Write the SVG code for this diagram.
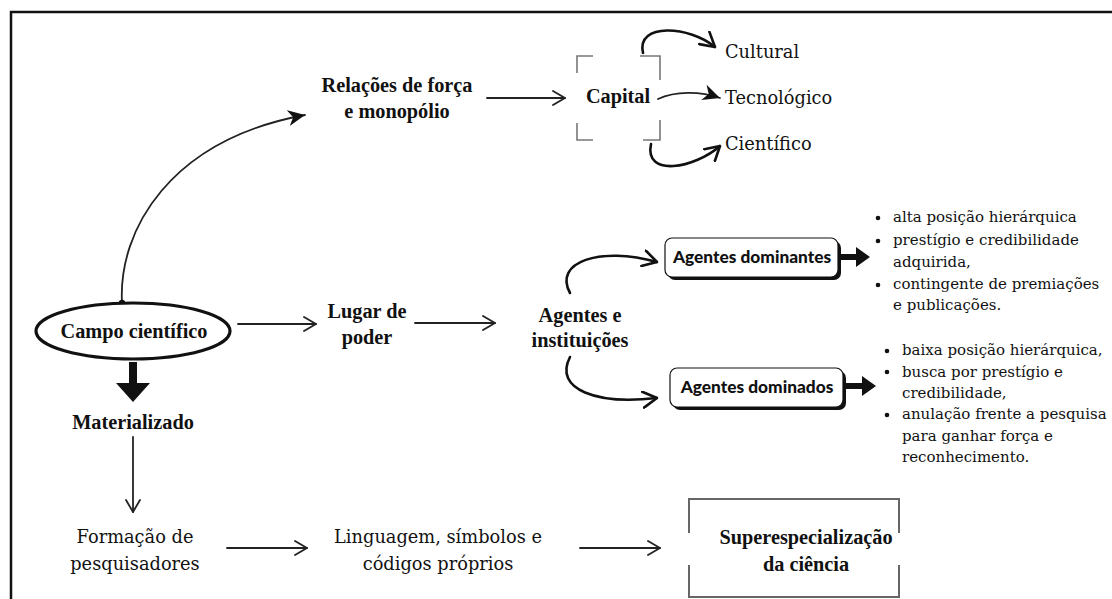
<svg xmlns="http://www.w3.org/2000/svg" width="1112" height="599" viewBox="0 0 1112 599">
<defs>
<style>
.h{font-family:"Liberation Serif","DejaVu Serif",serif;font-weight:bold;font-size:20.3px;fill:#111;text-anchor:middle}
.b{font-family:"DejaVu Serif","Liberation Serif",serif;font-size:17.8px;fill:#111}
.bl{font-family:"DejaVu Serif","Liberation Serif",serif;font-size:15px;fill:#111}
.s{font-family:Lato,"Open Sans",sans-serif;font-weight:900;font-size:17.3px;fill:#111;text-anchor:middle}
.ln{fill:none;stroke:#222;stroke-width:1.8;stroke-linecap:round}
.lk{fill:none;stroke:#111;stroke-width:2.6;stroke-linecap:round}
.br{fill:none;stroke:#777;stroke-width:1.6}
</style>
<marker id="op" markerUnits="userSpaceOnUse" viewBox="0 0 14 16" refX="13" refY="8" markerWidth="14" markerHeight="16" orient="auto">
<path d="M1,1 L13,8 L1,15" fill="none" stroke="#222" stroke-width="1.8" stroke-linecap="round" stroke-linejoin="round"/>
</marker>
<marker id="ok" markerUnits="userSpaceOnUse" viewBox="0 0 16 18" refX="15" refY="9" markerWidth="16" markerHeight="18" orient="auto">
<path d="M1,1 L15,9 L1,17" fill="none" stroke="#111" stroke-width="2.6" stroke-linecap="round" stroke-linejoin="round"/>
</marker>
<marker id="fl" markerUnits="userSpaceOnUse" viewBox="0 0 18 18" refX="17" refY="9" markerWidth="18" markerHeight="18" orient="auto">
<path d="M0,1 L17,9 L0,17 L5,9 z" fill="#111"/>
</marker>
</defs>
<rect width="1112" height="599" fill="#fff"/>
<path d="M11,599 L11,12 L1112,12" fill="none" stroke="#111" stroke-width="2.5"/>

<g id="connectors">
<path class="ln" d="M122,303 C118,230 170,140 305,115" marker-end="url(#fl)"/>
<circle cx="122" cy="303" r="3.2" fill="#111"/>
<path class="ln" d="M487,98 L565,98" marker-end="url(#op)"/>
<path class="lk" d="M643,53 C636,22 690,26 715,47" marker-end="url(#ok)"/>
<path class="ln" d="M658,99 C675,91 700,91 720,98" marker-end="url(#fl)"/>
<path class="lk" d="M651,144 C644,178 695,168 720,146" marker-end="url(#ok)"/>
<path class="ln" d="M238,324 L316,324" marker-end="url(#op)"/>
<path class="ln" d="M415,323 L495,323" marker-end="url(#op)"/>
<path class="lk" d="M570,293 C553,262 600,246 657,262" marker-end="url(#ok)"/>
<path class="lk" d="M570,357 C553,390 598,405 657,398" marker-end="url(#ok)"/>
<path d="M129,362 h8 v21 h13 l-17,19 l-17,-19 h13 z" fill="#111"/>
<path class="ln" d="M133,437 L133,512" marker-end="url(#op)"/>
<path class="ln" d="M227,548 L307,548" marker-end="url(#op)"/>
<path class="ln" d="M580,548 L660,548" marker-end="url(#op)"/>
<path d="M840,254 h16 v-7 l14,10 l-14,10 v-7 h-16 z" fill="#111"/>
<path d="M845,383 h17 v-7 l14,10 l-14,10 v-7 h-17 z" fill="#111"/>
</g>

<g id="relacoes">
<text class="h" x="397" y="92">Relações de força</text>
<text class="h" x="397" y="118">e monopólio</text>
</g>

<g id="capital">
<path class="br" d="M593,56 H577 V73 M640,56 H660 V80 M577,123 V140 H593 M643,140 H660 V120"/>
<text class="h" x="618" y="103">Capital</text>
</g>

<g id="cultural"><text class="b" x="725" y="58">Cultural</text></g>
<g id="tecnologico"><text class="b" x="725" y="104">Tecnológico</text></g>
<g id="cientifico"><text class="b" x="725" y="150">Científico</text></g>

<g id="campo">
<ellipse cx="133" cy="331" rx="97" ry="28" fill="#fff" stroke="#111" stroke-width="3.2"/>
<text class="h" x="134" y="338">Campo científico</text>
</g>

<g id="materializado"><text class="h" x="133" y="429">Materializado</text></g>

<g id="formacao">
<text class="b" x="135" y="543" text-anchor="middle">Formação de</text>
<text class="b" x="135" y="570" text-anchor="middle">pesquisadores</text>
</g>

<g id="linguagem">
<text class="b" x="438" y="543" text-anchor="middle">Linguagem, símbolos e</text>
<text class="b" x="438" y="570" text-anchor="middle">códigos próprios</text>
</g>

<g id="superespecializacao">
<path d="M689,533 V499 H899 V533 M689,565 V597 H899 V565" fill="none" stroke="#666" stroke-width="2"/>
<text class="h" x="806" y="544">Superespecialização</text>
<text class="h" x="806" y="571">da ciência</text>
</g>

<g id="lugar">
<text class="h" x="367" y="318">Lugar de</text>
<text class="h" x="367" y="344">poder</text>
</g>

<g id="agentes">
<text class="h" x="580" y="322">Agentes e</text>
<text class="h" x="580" y="347">instituições</text>
</g>

<g id="dominantes">
<rect x="668" y="241" width="173" height="39" rx="7" fill="#111"/>
<rect x="665" y="238" width="173" height="39" rx="7" fill="#fff" stroke="#111" stroke-width="1.2"/>
<text class="s" x="752" y="263">Agentes dominantes</text>
</g>

<g id="dominados">
<rect x="673" y="371" width="173" height="39" rx="7" fill="#111"/>
<rect x="670" y="368" width="173" height="39" rx="7" fill="#fff" stroke="#111" stroke-width="1.2"/>
<text class="s" x="757" y="393">Agentes dominados</text>
</g>

<g id="lista-dominantes">
<circle cx="878" cy="218" r="2.3" fill="#111"/>
<circle cx="878" cy="241" r="2.3" fill="#111"/>
<circle cx="878" cy="285" r="2.3" fill="#111"/>
<text class="bl" x="893" y="222">alta posição hierárquica</text>
<text class="bl" x="893" y="245">prestígio e credibilidade</text>
<text class="bl" x="893" y="267">adquirida,</text>
<text class="bl" x="893" y="289">contingente de premiações</text>
<text class="bl" x="893" y="310">e publicações.</text>
</g>

<g id="lista-dominados">
<circle cx="887" cy="351" r="2.3" fill="#111"/>
<circle cx="887" cy="372" r="2.3" fill="#111"/>
<circle cx="887" cy="415" r="2.3" fill="#111"/>
<text class="bl" x="902" y="355">baixa posição hierárquica,</text>
<text class="bl" x="902" y="377">busca por prestígio e</text>
<text class="bl" x="902" y="398">credibilidade,</text>
<text class="bl" x="902" y="419">anulação frente a pesquisa</text>
<text class="bl" x="902" y="441">para ganhar força e</text>
<text class="bl" x="902" y="462">reconhecimento.</text>
</g>
</svg>
